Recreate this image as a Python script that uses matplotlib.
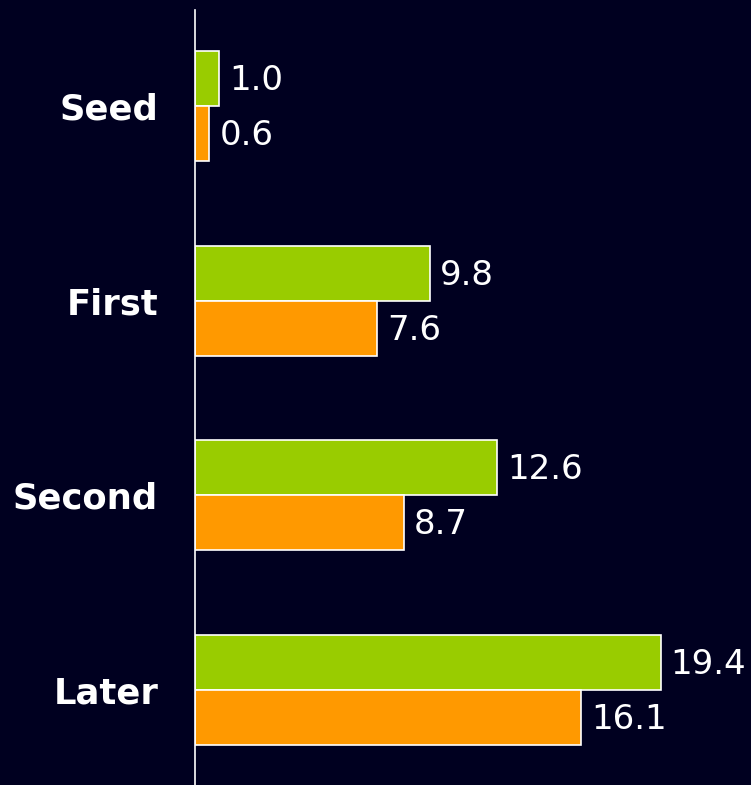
import numpy as np
import matplotlib.pyplot as plt

# data
stages = ['Seed', 'First', 'Second', 'Later']
green_vals = [1.0, 9.8, 12.6, 19.4]
orange_vals = [0.6, 7.6, 8.7, 16.1]

bg = '#000020'
green = '#99cc00'
orange = '#ff9900'

fig = plt.figure(figsize=(7.51, 7.85), dpi=100, facecolor=bg)
ax = fig.add_axes([195/751, 0, 1 - 195/751, 1 - 10/785])
ax.set_facecolor(bg)

y = np.arange(len(stages))
h = 0.283
b1 = ax.barh(y - h/2, green_vals, height=h, color=green, edgecolor='white', linewidth=1.2)
b2 = ax.barh(y + h/2, orange_vals, height=h, color=orange, edgecolor='white', linewidth=1.2)

for bars, vals in [(b1, green_vals), (b2, orange_vals)]:
    for bar, v in zip(bars, vals):
        ax.text(v + 0.42, bar.get_y() + bar.get_height()/2 + 0.01, f'{v:.1f}',
                color='white', fontsize=24.5, va='center', ha='left')

ax.set_xlim(0, 556/24)
ax.set_ylim(3.49, -0.494)
ax.set_yticks(y)
ax.set_yticklabels(stages, color='white', fontsize=25.5, fontweight='bold')
ax.tick_params(axis='y', length=0, pad=26.5)
ax.set_xticks([])
for s in ['top', 'right', 'bottom']:
    ax.spines[s].set_visible(False)
ax.spines['left'].set_color('white')
ax.spines['left'].set_linewidth(1.2)

fig.savefig('out.png', dpi=100, facecolor=bg)
